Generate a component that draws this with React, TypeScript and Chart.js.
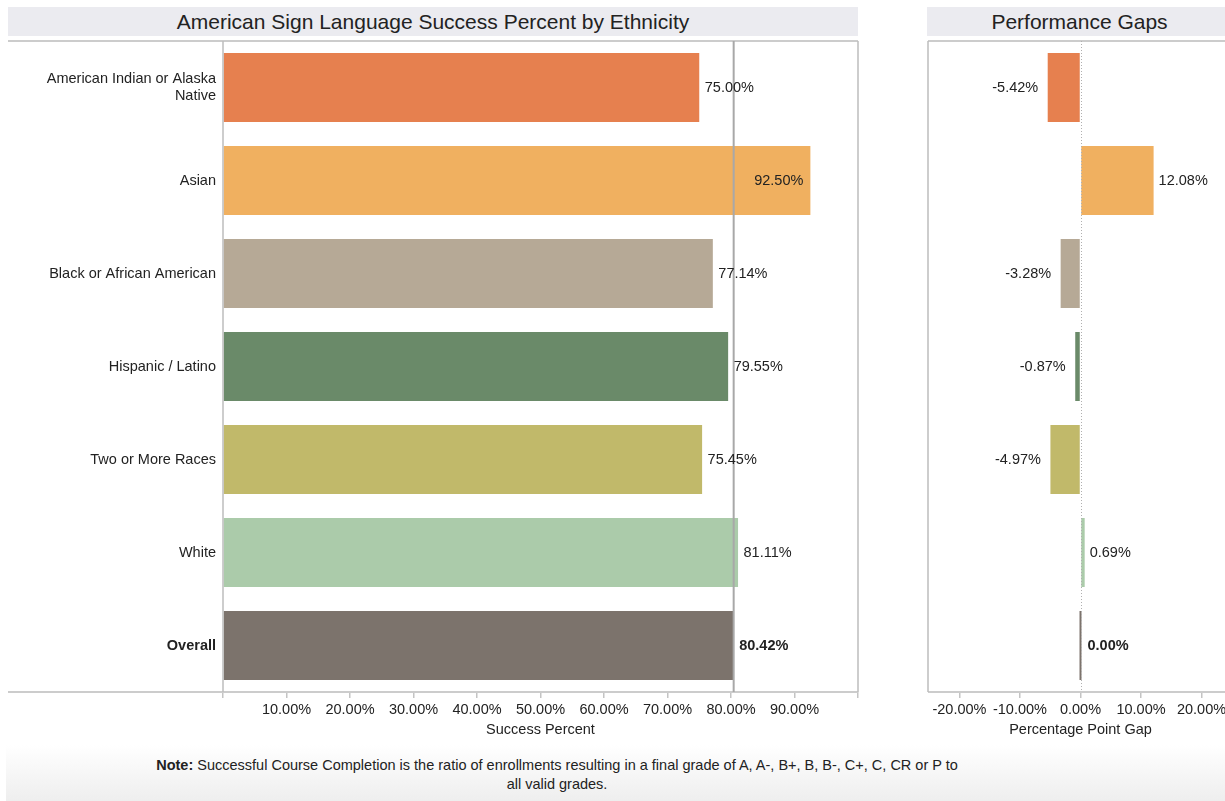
import React, { useEffect, useRef } from 'react';
import { Chart, registerables } from 'chart.js';

Chart.register(...registerables);

const FONT = '"Liberation Sans", Arial, Helvetica, sans-serif';
const TEXT = '#222222';
const FRAME = '#cccccc';

const categories: (string | string[])[] = [
  ['American Indian or Alaska', 'Native'],
  'Asian',
  'Black or African American',
  'Hispanic / Latino',
  'Two or More Races',
  'White',
  'Overall',
];
const successPercent = [75.0, 92.5, 77.14, 79.55, 75.45, 81.11, 80.42];
const gapPoints = [-5.42, 12.08, -3.28, -0.87, -4.97, 0.69, 0.0];
const barColors = ['#E6804F', '#F0B060', '#B6A996', '#6A8A69', '#C1B96A', '#ABCBAA', '#7C736C'];
const successTicks = [0, 10, 20, 30, 40, 50, 60, 70, 80, 90, 100];
const gapTicks = [-20, -10, 0, 10, 20];
const OVERALL_INDEX = 6;

const fmt = (v: number) => `${v.toFixed(2)}%`;

const leftPlugin = {
  id: 'leftDecor',
  afterDatasetsDraw(chart: any) {
    const { ctx, chartArea, scales } = chart;
    const xs = scales.x;
    ctx.save();
    ctx.strokeStyle = FRAME;
    ctx.lineWidth = 2;
    ctx.beginPath();
    ctx.moveTo(8, chartArea.top);
    ctx.lineTo(chartArea.right, chartArea.top);
    ctx.moveTo(8, chartArea.bottom);
    ctx.lineTo(chartArea.right, chartArea.bottom);
    ctx.stroke();
    ctx.strokeStyle = '#bdbdbd';
    ctx.lineWidth = 1.5;
    ctx.beginPath();
    ctx.moveTo(chartArea.left, chartArea.top);
    ctx.lineTo(chartArea.left, chartArea.bottom);
    ctx.moveTo(chartArea.right, chartArea.top);
    ctx.lineTo(chartArea.right, chartArea.bottom);
    ctx.stroke();
    const rx = xs.getPixelForValue(successPercent[OVERALL_INDEX]);
    ctx.strokeStyle = '#a8a8a8';
    ctx.lineWidth = 2;
    ctx.beginPath();
    ctx.moveTo(rx, chartArea.top);
    ctx.lineTo(rx, chartArea.bottom);
    ctx.stroke();
    const meta = chart.getDatasetMeta(0);
    ctx.textBaseline = 'middle';
    ctx.fillStyle = TEXT;
    meta.data.forEach((bar: any, i: number) => {
      const bold = i === OVERALL_INDEX;
      ctx.font = `${bold ? 'bold ' : ''}14.5px ${FONT}`;
      const t = fmt(successPercent[i]);
      const w = ctx.measureText(t).width;
      if (bar.x + 5.5 + w > chartArea.right) {
        ctx.textAlign = 'right';
        ctx.fillText(t, bar.x - 7, bar.y);
      } else {
        ctx.textAlign = 'left';
        ctx.fillText(t, bar.x + 5.5, bar.y);
      }
    });
    ctx.restore();
  },
};

const rightPlugin = {
  id: 'rightDecor',
  afterDatasetsDraw(chart: any) {
    const { ctx, chartArea, scales, width } = chart;
    const xs = scales.x;
    ctx.save();
    ctx.strokeStyle = FRAME;
    ctx.lineWidth = 2;
    ctx.beginPath();
    ctx.moveTo(chartArea.left, chartArea.top);
    ctx.lineTo(width, chartArea.top);
    ctx.moveTo(chartArea.left, chartArea.bottom);
    ctx.lineTo(width, chartArea.bottom);
    ctx.stroke();
    ctx.strokeStyle = '#bdbdbd';
    ctx.lineWidth = 1.5;
    ctx.beginPath();
    ctx.moveTo(chartArea.left, chartArea.top);
    ctx.lineTo(chartArea.left, chartArea.bottom);
    ctx.stroke();
    const zx = Math.round(xs.getPixelForValue(0)) + 0.5;
    ctx.strokeStyle = '#b0b0b0';
    ctx.lineWidth = 1;
    ctx.setLineDash([1, 2]);
    ctx.beginPath();
    ctx.moveTo(zx, chartArea.top);
    ctx.lineTo(zx, chartArea.bottom);
    ctx.stroke();
    ctx.setLineDash([]);
    const meta = chart.getDatasetMeta(0);
    ctx.textBaseline = 'middle';
    ctx.fillStyle = TEXT;
    meta.data.forEach((bar: any, i: number) => {
      const bold = i === OVERALL_INDEX;
      ctx.font = `${bold ? 'bold ' : ''}14.5px ${FONT}`;
      const v = gapPoints[i];
      const t = fmt(v);
      const base = xs.getPixelForValue(0);
      if (v < 0) {
        ctx.textAlign = 'right';
        ctx.fillText(t, Math.min(bar.x, base) - 9.5, bar.y);
      } else {
        ctx.textAlign = 'left';
        ctx.fillText(t, Math.max(bar.x, base + 2) + 5, bar.y);
      }
    });
    ctx.restore();
  },
};

function LeftChart() {
  const ref = useRef<HTMLCanvasElement>(null);
  useEffect(() => {
    if (!ref.current) return;
    const chart = new Chart(ref.current, {
      type: 'bar',
      data: {
        labels: categories as any,
        datasets: [
          {
            data: successPercent,
            backgroundColor: barColors,
            borderWidth: 0,
            categoryPercentage: 1,
            barPercentage: 0.742,
          },
        ],
      },
      options: {
        indexAxis: 'y',
        animation: false,
        responsive: false,
        maintainAspectRatio: false,
        layout: { padding: { top: 41, right: 12, left: 0, bottom: 0 } },
        plugins: { legend: { display: false }, tooltip: { enabled: false } },
        scales: {
          x: {
            type: 'linear',
            min: 0,
            max: 100,
            afterFit: (s: any) => {
              s.height = 58;
            },
            afterBuildTicks: (s: any) => {
              s.ticks = successTicks.map((v) => ({ value: v }));
            },
            grid: { drawOnChartArea: false, drawTicks: true, tickLength: 6, color: '#c4c4c4', lineWidth: 1.5 },
            border: { display: false },
            ticks: {
              callback: (v: any) => (v === 0 || v === 100 ? '' : fmt(Number(v))),
              padding: 3,
              maxRotation: 0,
              autoSkip: false,
              color: TEXT,
              font: { family: FONT, size: 14.5 },
            },
            title: {
              display: true,
              text: 'Success Percent',
              color: TEXT,
              font: { family: FONT, size: 14.5 },
              padding: { top: 0, bottom: 11 },
            },
          },
          y: {
            type: 'category',
            afterFit: (s: any) => {
              s.width = 223;
            },
            grid: { display: false, drawTicks: false },
            border: { display: false },
            ticks: {
              padding: 7,
              color: TEXT,
              autoSkip: false,
              font: (ctx: any) => ({
                family: FONT,
                size: 14.5,
                weight: ctx.index === OVERALL_INDEX ? 'bold' : 'normal',
              }),
            },
          },
        },
      } as any,
      plugins: [leftPlugin],
    });
    return () => chart.destroy();
  }, []);
  return (
    <canvas
      ref={ref}
      width={870}
      height={750}
      style={{ position: 'absolute', left: 0, top: 0, width: 870, height: 750, display: 'block' }}
    />
  );
}

function RightChart() {
  const ref = useRef<HTMLCanvasElement>(null);
  useEffect(() => {
    if (!ref.current) return;
    const chart = new Chart(ref.current, {
      type: 'bar',
      data: {
        labels: categories as any,
        datasets: [
          {
            data: gapPoints,
            backgroundColor: barColors,
            borderWidth: 0,
            categoryPercentage: 1,
            barPercentage: 0.742,
            minBarLength: 2,
          },
        ],
      },
      options: {
        indexAxis: 'y',
        animation: false,
        responsive: false,
        maintainAspectRatio: false,
        layout: { padding: { top: 41, right: 7, left: 48, bottom: 0 } },
        plugins: { legend: { display: false }, tooltip: { enabled: false } },
        scales: {
          x: {
            type: 'linear',
            min: -25.2,
            max: 25.2,
            afterFit: (s: any) => {
              s.height = 58;
            },
            afterBuildTicks: (s: any) => {
              s.ticks = gapTicks.map((v) => ({ value: v }));
            },
            grid: { drawOnChartArea: false, drawTicks: true, tickLength: 6, color: '#c4c4c4', lineWidth: 1.5 },
            border: { display: false },
            ticks: {
              callback: (v: any) => fmt(Number(v)),
              padding: 3,
              maxRotation: 0,
              autoSkip: false,
              color: TEXT,
              font: { family: FONT, size: 14.5 },
            },
            title: {
              display: true,
              text: 'Percentage Point Gap',
              color: TEXT,
              font: { family: FONT, size: 14.5 },
              padding: { top: 0, bottom: 11 },
            },
          },
          y: {
            type: 'category',
            display: false,
          },
        },
      } as any,
      plugins: [rightPlugin],
    });
    return () => chart.destroy();
  }, []);
  return (
    <canvas
      ref={ref}
      width={360}
      height={750}
      style={{ position: 'absolute', left: 880, top: 0, width: 360, height: 750, display: 'block' }}
    />
  );
}

const titleStyle: React.CSSProperties = {
  position: 'absolute',
  top: 7,
  height: 29,
  lineHeight: '29px',
  background: '#ebebf0',
  color: TEXT,
  fontFamily: FONT,
  fontSize: 21,
  textAlign: 'center',
  whiteSpace: 'nowrap',
};

export default function App() {
  return (
    <div
      style={{
        position: 'fixed',
        left: 0,
        top: 0,
        width: 1225,
        height: 801,
        overflow: 'hidden',
        background: '#ffffff',
      }}
    >
      <div style={{ ...titleStyle, left: 8, width: 850 }}>American Sign Language Success Percent by Ethnicity</div>
      <div style={{ ...titleStyle, left: 927, width: 305 }}>Performance Gaps</div>
      <LeftChart />
      <RightChart />
      <div
        style={{
          position: 'absolute',
          left: 6,
          top: 745,
          width: 1219,
          height: 56,
          background: 'linear-gradient(#ffffff, #eeeeee)',
        }}
      />
      <div
        style={{
          position: 'absolute',
          left: 57,
          top: 756,
          width: 1000,
          textAlign: 'center',
          fontFamily: FONT,
          fontSize: 14.5,
          lineHeight: '19px',
          color: TEXT,
          whiteSpace: 'nowrap',
        }}
      >
        <b>Note:</b> Successful Course Completion is the ratio of enrollments resulting in a final grade of A, A-, B+, B, B-, C+, C, CR or P to
        <br />
        all valid grades.
      </div>
    </div>
  );
}
